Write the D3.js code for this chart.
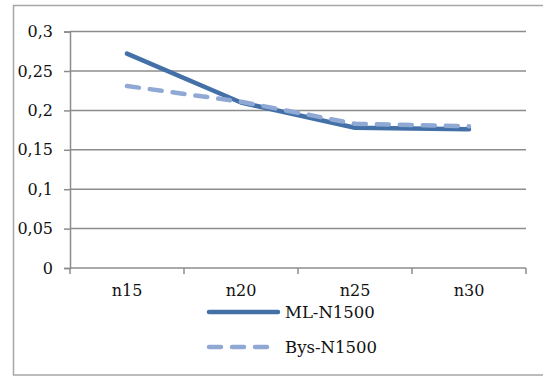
<!DOCTYPE html>
<html>
<head>
<meta charset="utf-8">
<script src="https://cdn.jsdelivr.net/npm/d3@7"></script>
<style>
  html, body { margin: 0; padding: 0; background: #fff; }
  svg { display: block; }
  text { font-family: "DejaVu Serif", "Liberation Serif", serif; fill: #111; }
</style>
</head>
<body>
<svg id="chart" width="543" height="376"></svg>
<script>
// Categories along the x axis
const categories = ["n15", "n20", "n25", "n30"];
// Series values
const mlValues  = [0.272, 0.210, 0.178, 0.176];
const bysValues = [0.231, 0.211, 0.183, 0.180];
// Series names
const seriesNames = ["ML-N1500", "Bys-N1500"];
// Y axis tick values and labels
const yTicks = [0, 0.05, 0.1, 0.15, 0.2, 0.25, 0.3];
const yTickLabels = ["0", "0,05", "0,1", "0,15", "0,2", "0,25", "0,3"];

const svg = d3.select("#chart");

const plot = { left: 70, right: 526, top: 31.6, bottom: 268 };
const gridColor = "#8c8c8c";
const mlColor = "#4470a8";
const bysColor = "#8fa9d4";

// Chart frame
svg.append("rect")
  .attr("x", 13.5).attr("y", 5.5)
  .attr("width", 540).attr("height", 369.5)
  .attr("fill", "none")
  .attr("stroke", "#a6a6a6")
  .attr("stroke-width", 1.5);

const x = d3.scaleBand().domain(categories).range([plot.left, plot.right]);
const y = d3.scaleLinear().domain([0, 0.3]).range([plot.bottom, plot.top]);

// Horizontal gridlines
svg.append("g")
  .selectAll("line")
  .data(yTicks.filter(d => d > 0))
  .join("line")
  .attr("x1", plot.left).attr("x2", plot.right)
  .attr("y1", d => y(d)).attr("y2", d => y(d))
  .attr("stroke", gridColor)
  .attr("stroke-width", 1.5);

// Y axis
const yAxis = d3.axisLeft(y)
  .tickValues(yTicks)
  .tickFormat((d, i) => yTickLabels[i])
  .tickSize(6)
  .tickPadding(11);
const gy = svg.append("g").attr("transform", `translate(${plot.left},0)`).call(yAxis);
gy.select(".domain").attr("stroke", gridColor).attr("stroke-width", 1.5);
gy.selectAll(".tick line").attr("stroke", gridColor).attr("stroke-width", 1.5);
gy.selectAll(".tick text").attr("font-size", 16).attr("font-family", "DejaVu Serif").attr("fill", "#111");

// X axis with ticks at category boundaries
const xAxis = d3.axisBottom(x).tickSize(0).tickPadding(17);
const gx = svg.append("g").attr("transform", `translate(0,${plot.bottom})`).call(xAxis);
gx.select(".domain").remove();
gx.selectAll(".tick text").attr("font-size", 16).attr("font-family", "DejaVu Serif").attr("fill", "#111");
gx.append("line")
  .attr("x1", plot.left).attr("x2", plot.right)
  .attr("stroke", gridColor).attr("stroke-width", 1.5);
const boundaries = categories.map(c => x(c)).concat([x(categories[categories.length - 1]) + x.bandwidth()]);
gx.selectAll("line.bound")
  .data(boundaries)
  .join("line")
  .attr("class", "bound")
  .attr("x1", d => d).attr("x2", d => d)
  .attr("y1", 0).attr("y2", 6)
  .attr("stroke", gridColor).attr("stroke-width", 1.5);

// Series lines
const line = d3.line()
  .x((d, i) => x(categories[i]) + x.bandwidth() / 2)
  .y(d => y(d));

svg.append("path")
  .datum(mlValues)
  .attr("d", line)
  .attr("fill", "none")
  .attr("stroke", mlColor)
  .attr("stroke-width", 4.5)
  .attr("stroke-linecap", "round")
  .attr("stroke-linejoin", "round");

svg.append("path")
  .datum(bysValues)
  .attr("d", line)
  .attr("fill", "none")
  .attr("stroke", bysColor)
  .attr("stroke-width", 4.5)
  .attr("stroke-dasharray", "12,11")
  .attr("stroke-linecap", "round")
  .attr("stroke-linejoin", "round");

// Legend
const legend = svg.append("g");
const legendItems = [
  { name: seriesNames[0], color: mlColor, dash: null, y: 312 },
  { name: seriesNames[1], color: bysColor, dash: "12,11", y: 347 }
];
legendItems.forEach(it => {
  legend.append("line")
    .attr("x1", 209).attr("x2", 278)
    .attr("y1", it.y).attr("y2", it.y)
    .attr("stroke", it.color)
    .attr("stroke-width", 4.5)
    .attr("stroke-linecap", "round")
    .attr("stroke-dasharray", it.dash);
  legend.append("text")
    .attr("x", 285).attr("y", it.y + 6)
    .attr("font-size", 16.5)
    .text(it.name);
});
</script>
</body>
</html>
